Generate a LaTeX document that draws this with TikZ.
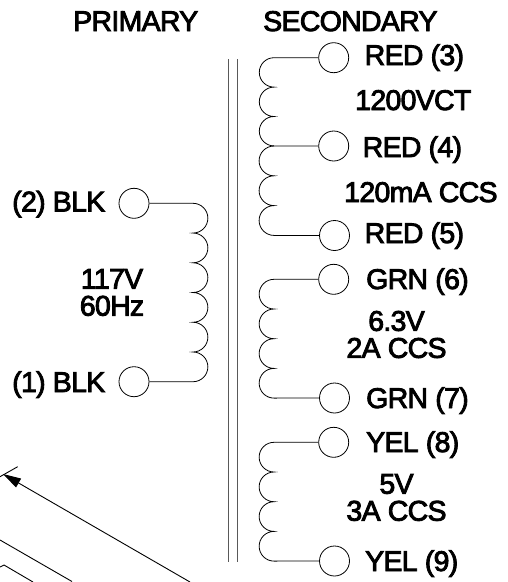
\documentclass[tikz,border=0pt]{standalone}
\usepackage{fontspec}
\setmainfont{Liberation Sans}
\newfontfamily\labfont[FakeBold=3,LetterSpace=-2.5]{Liberation Sans}
\usetikzlibrary{arrows.meta}
\tikzset{
  term/.style={circle,draw=black,line width=0.8pt,minimum size=30pt,inner sep=0pt},
  wire/.style={draw=black,line width=0.8pt},
  outline/.style={draw=black,line width=0.9pt},
  core/.style={draw=black!65,line width=1pt},
  lbl/.style={font=\labfont\fontsize{28.5}{27}\selectfont,text=black,inner sep=0pt,anchor=base west},
  lblm/.style={font=\labfont\fontsize{28.5}{27}\selectfont,text=black,inner sep=0pt,align=center}
}
\begin{document}
\begin{tikzpicture}[x=1pt,y=-1pt]
\useasboundingbox (0,0) rectangle (508,582);
\clip (0,0) rectangle (508,582);
% headings
\node[lbl] (hp) at (73,31) {PRIMARY};
\node[lbl] (hs) at (263,31) {SECONDARY};
% core
\draw[core] (228,59) -- (228,561.5);
\draw[core] (237.7,59) -- (237.7,561.5);
% terminals
\node[term] (t3) at (333.7,57.7) {};
\node[term] (t4) at (333.7,146) {};
\node[term] (t5) at (334.5,235.5) {};
\node[term] (t6) at (333.7,279.3) {};
\node[term] (t7) at (334.5,398) {};
\node[term] (t8) at (333.7,442.3) {};
\node[term] (t9) at (334.5,561) {};
\node[term] (t2) at (134,203.3) {};
\node[term] (t1) at (134,381.7) {};
% secondary coils
\draw[wire] (t3.west) -- (274,57.7) arc[start angle=90,end angle=270,radius=14.7pt] arc[start angle=90,end angle=270,radius=14.7pt] arc[start angle=90,end angle=270,radius=14.7pt] -- (t4.west);
\draw[wire] (274,146) arc[start angle=90,end angle=270,radius=14.9pt] arc[start angle=90,end angle=270,radius=14.9pt] arc[start angle=90,end angle=270,radius=14.9pt] -- (t5.west);
\draw[wire] (t6.west) -- (274,279.3) arc[start angle=90,end angle=270,radius=14.85pt] arc[start angle=90,end angle=270,radius=14.85pt] arc[start angle=90,end angle=270,radius=14.85pt] arc[start angle=90,end angle=270,radius=14.85pt] -- (t7.west);
\draw[wire] (t8.west) -- (274,442.3) arc[start angle=90,end angle=270,radius=14.85pt] arc[start angle=90,end angle=270,radius=14.85pt] arc[start angle=90,end angle=270,radius=14.85pt] arc[start angle=90,end angle=270,radius=14.85pt] -- (t9.west);
% primary coil
\draw[wire] (t2.east) -- (193,203.3) arc[start angle=90,end angle=-90,radius=14.87pt] arc[start angle=90,end angle=-90,radius=14.87pt] arc[start angle=90,end angle=-90,radius=14.87pt] arc[start angle=90,end angle=-90,radius=14.87pt] arc[start angle=90,end angle=-90,radius=14.87pt] arc[start angle=90,end angle=-90,radius=14.87pt] -- (t1.east);
% labels
\node[lbl] (l3) at (364.5,65) {RED (3)};
\node[lbl] (l12) at (355,110) {1200VCT};
\node[lbl] (l4) at (362.5,157) {RED (4)};
\node[lbl] (l120) at (344,202) {120mA CCS};
\node[lbl] (l5) at (364.5,243) {RED (5)};
\node[lbl] (l6) at (366,289) {GRN (6)};
\node[lblm] (l63) at (396.5,334.5) {6.3V\\2A CCS};
\node[lbl] (l7) at (366,408) {GRN (7)};
\node[lbl] (l8) at (366,452) {YEL (8)};
\node[lblm] (l53) at (396.5,497.5) {5V\\3A CCS};
\node[lbl] (l9) at (365,571) {YEL (9)};
\node[lbl] (l2) at (12,211.5) {(2) BLK};
\node[lbl] (l1) at (12,392) {(1) BLK};
\node[lblm] (l117) at (112,292.5) {117V\\60Hz};
% outline fragment
\coordinate (a0) at (0,476.7);
\coordinate (a1) at (17.7,466.7);
\coordinate (b0) at (3,474);
\coordinate (b1) at (190,582);
\draw[outline] (a0) -- (a1);
\draw[outline,-{Triangle[length=18pt,width=10pt]}] (b1) -- (b0);
\coordinate (c0) at (0,540);
\coordinate (c1) at (72,581.5);
\draw[outline] (c0) -- (c1);
\coordinate (d0) at (0,567);
\coordinate (d1) at (4,565);
\coordinate (d2) at (33,582);
\draw[outline] (d0) -- (d1) -- (d2);
\end{tikzpicture}
\end{document}
